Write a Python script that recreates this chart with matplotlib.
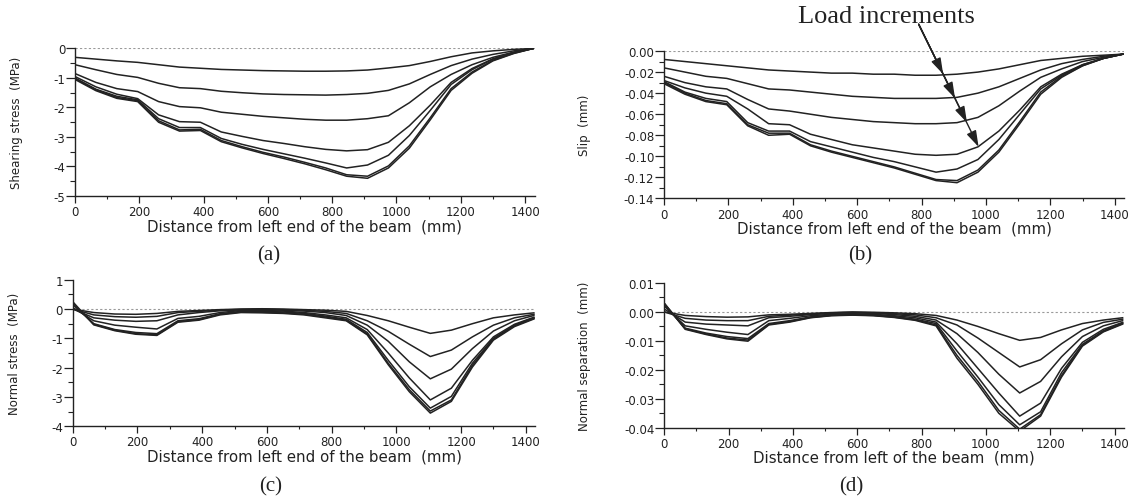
import matplotlib
matplotlib.use("Agg")
import matplotlib.pyplot as plt
from matplotlib.ticker import MultipleLocator, FormatStrFormatter

plt.rcParams["axes.unicode_minus"] = False
plt.rcParams["font.family"] = ["DejaVu Sans"]

# distance along the beam (mm), shared by all panels
x_mm = [0, 65, 130, 195, 260, 325, 390, 455, 520, 585, 650, 715, 780, 845,
        910, 975, 1040, 1105, 1170, 1235, 1300, 1365, 1425]

# (a) shearing stress (MPa), one list per load increment
shear_1 = [-0.30, -0.36, -0.42, -0.47, -0.55, -0.63, -0.67, -0.71, -0.73, -0.75, -0.76, -0.77,
           -0.77, -0.76, -0.73, -0.66, -0.58, -0.44, -0.28, -0.15, -0.08, -0.03, 0.0]
shear_2 = [-0.55, -0.72, -0.88, -0.98, -1.18, -1.33, -1.36, -1.45, -1.50, -1.54, -1.56, -1.57,
           -1.58, -1.56, -1.52, -1.42, -1.20, -0.88, -0.58, -0.36, -0.20, -0.08, 0.0]
shear_3 = [-0.85, -1.15, -1.36, -1.46, -1.80, -1.97, -2.01, -2.16, -2.23, -2.30, -2.35, -2.40,
           -2.43, -2.43, -2.38, -2.28, -1.84, -1.30, -0.88, -0.55, -0.30, -0.12, 0.0]
shear_4 = [-0.95, -1.30, -1.55, -1.70, -2.25, -2.48, -2.50, -2.83, -2.98, -3.12, -3.22, -3.33,
           -3.42, -3.47, -3.43, -3.18, -2.62, -1.92, -1.15, -0.68, -0.35, -0.14, 0.0]
shear_5 = [-1.00, -1.38, -1.62, -1.74, -2.38, -2.68, -2.68, -3.05, -3.25, -3.42, -3.57, -3.72,
           -3.88, -4.05, -3.95, -3.62, -2.95, -2.10, -1.22, -0.72, -0.36, -0.14, 0.0]
shear_6 = [-1.02, -1.40, -1.66, -1.77, -2.45, -2.76, -2.74, -3.12, -3.33, -3.52, -3.68, -3.86,
           -4.05, -4.28, -4.33, -3.98, -3.30, -2.35, -1.36, -0.80, -0.40, -0.16, 0.0]
shear_7 = [-1.05, -1.43, -1.69, -1.80, -2.50, -2.80, -2.78, -3.16, -3.37, -3.56, -3.73, -3.91,
           -4.11, -4.33, -4.40, -4.05, -3.38, -2.42, -1.42, -0.84, -0.42, -0.17, 0.0]

# (b) slip (mm)
slip_1 = [-0.008, -0.010, -0.012, -0.014, -0.016, -0.018, -0.019, -0.020, -0.021, -0.021, -0.022, -0.022,
          -0.023, -0.023, -0.022, -0.020, -0.017, -0.013, -0.009, -0.007, -0.005, -0.004, -0.003]
slip_2 = [-0.016, -0.020, -0.024, -0.026, -0.031, -0.036, -0.037, -0.039, -0.041, -0.043, -0.044, -0.045,
          -0.045, -0.045, -0.044, -0.040, -0.034, -0.026, -0.018, -0.012, -0.008, -0.005, -0.003]
slip_3 = [-0.024, -0.030, -0.034, -0.036, -0.046, -0.055, -0.057, -0.060, -0.063, -0.065, -0.067, -0.068,
          -0.069, -0.069, -0.068, -0.063, -0.052, -0.038, -0.025, -0.017, -0.010, -0.006, -0.003]
slip_4 = [-0.028, -0.035, -0.040, -0.043, -0.055, -0.069, -0.070, -0.079, -0.084, -0.089, -0.092, -0.095,
          -0.098, -0.099, -0.098, -0.091, -0.076, -0.056, -0.034, -0.022, -0.013, -0.007, -0.003]
slip_5 = [-0.029, -0.039, -0.045, -0.048, -0.068, -0.076, -0.076, -0.086, -0.091, -0.096, -0.101, -0.105,
          -0.110, -0.115, -0.112, -0.103, -0.084, -0.060, -0.036, -0.023, -0.013, -0.007, -0.003]
slip_6 = [-0.030, -0.040, -0.047, -0.050, -0.070, -0.078, -0.078, -0.089, -0.095, -0.100, -0.105, -0.110,
          -0.116, -0.122, -0.123, -0.113, -0.094, -0.067, -0.039, -0.024, -0.014, -0.007, -0.003]
slip_7 = [-0.031, -0.041, -0.048, -0.051, -0.071, -0.080, -0.079, -0.090, -0.096, -0.101, -0.106, -0.111,
          -0.117, -0.123, -0.125, -0.115, -0.096, -0.069, -0.041, -0.025, -0.014, -0.007, -0.003]

# (c) normal stress (MPa)
normal_1 = [0.00, -0.12, -0.17, -0.18, -0.15, -0.08, -0.05, -0.02, 0.00, 0.01, 0.00, -0.02,
            -0.04, -0.08, -0.22, -0.40, -0.62, -0.83, -0.72, -0.50, -0.30, -0.20, -0.13]
normal_2 = [0.00, -0.20, -0.26, -0.28, -0.25, -0.12, -0.08, -0.04, -0.01, 0.00, -0.02, -0.04,
            -0.08, -0.15, -0.40, -0.76, -1.20, -1.62, -1.40, -0.95, -0.55, -0.30, -0.18]
normal_3 = [0.00, -0.30, -0.38, -0.42, -0.40, -0.20, -0.12, -0.06, -0.03, -0.02, -0.04, -0.07,
            -0.12, -0.22, -0.55, -1.10, -1.80, -2.38, -2.05, -1.35, -0.75, -0.40, -0.22]
normal_4 = [0.05, -0.40, -0.55, -0.62, -0.68, -0.32, -0.25, -0.12, -0.05, -0.05, -0.07, -0.12,
            -0.20, -0.30, -0.70, -1.50, -2.35, -3.10, -2.70, -1.75, -0.95, -0.52, -0.28]
normal_5 = [0.15, -0.50, -0.70, -0.80, -0.84, -0.40, -0.33, -0.16, -0.08, -0.08, -0.10, -0.15,
            -0.24, -0.35, -0.80, -1.75, -2.65, -3.38, -2.98, -1.85, -1.00, -0.55, -0.30]
normal_6 = [0.20, -0.52, -0.72, -0.84, -0.88, -0.43, -0.36, -0.18, -0.10, -0.11, -0.13, -0.18,
            -0.27, -0.38, -0.85, -1.85, -2.75, -3.48, -3.10, -1.92, -1.03, -0.57, -0.32]
normal_7 = [0.25, -0.54, -0.74, -0.86, -0.90, -0.45, -0.38, -0.20, -0.12, -0.13, -0.15, -0.20,
            -0.30, -0.40, -0.88, -1.90, -2.82, -3.55, -3.15, -1.98, -1.06, -0.60, -0.34]

# (d) normal separation (mm)
sep_1 = [0.000, -0.0012, -0.0016, -0.0018, -0.0017, -0.0010, -0.0008, -0.0005, -0.0002, 0.0000, -0.0001, -0.0003,
         -0.0006, -0.0012, -0.0028, -0.0050, -0.0075, -0.0098, -0.0088, -0.0062, -0.0040, -0.0028, -0.0020]
sep_2 = [0.000, -0.0022, -0.0028, -0.0030, -0.0030, -0.0015, -0.0011, -0.0007, -0.0003, -0.0001, -0.0003, -0.0006,
         -0.0010, -0.0020, -0.0045, -0.0090, -0.0140, -0.0190, -0.0165, -0.0110, -0.0062, -0.0036, -0.0025]
sep_3 = [0.001, -0.0035, -0.0042, -0.0045, -0.0048, -0.0020, -0.0015, -0.0009, -0.0005, -0.0003, -0.0005, -0.0009,
         -0.0015, -0.0028, -0.0075, -0.0140, -0.0215, -0.0280, -0.0240, -0.0155, -0.0085, -0.0048, -0.0030]
sep_4 = [0.002, -0.0048, -0.0060, -0.0070, -0.0078, -0.0030, -0.0022, -0.0013, -0.0008, -0.0006, -0.0008, -0.0013,
         -0.0020, -0.0035, -0.0110, -0.0195, -0.0280, -0.0360, -0.0315, -0.0195, -0.0105, -0.0060, -0.0036]
sep_5 = [0.0025, -0.0056, -0.0073, -0.0085, -0.0092, -0.0040, -0.0030, -0.0017, -0.0011, -0.0009, -0.0011, -0.0016,
         -0.0025, -0.0040, -0.0135, -0.0225, -0.0320, -0.0390, -0.0345, -0.0210, -0.0112, -0.0065, -0.0038]
sep_6 = [0.003, -0.0058, -0.0076, -0.0090, -0.0097, -0.0043, -0.0033, -0.0019, -0.0012, -0.0010, -0.0012, -0.0018,
         -0.0027, -0.0045, -0.0150, -0.0240, -0.0340, -0.0405, -0.0355, -0.0220, -0.0115, -0.0067, -0.0040]
sep_7 = [0.003, -0.0060, -0.0078, -0.0093, -0.0101, -0.0045, -0.0035, -0.0020, -0.0013, -0.0011, -0.0013, -0.0019,
         -0.0029, -0.0048, -0.0160, -0.0250, -0.0350, -0.0412, -0.0360, -0.0225, -0.0118, -0.0069, -0.0042]

# arrow through the slip curves: start point and the head positions (mm, mm)
arrow_start = (791, 0.0254)
arrow_heads = [(867, -0.022), (904, -0.045), (941, -0.068), (977, -0.091)]

INK = "#222222"


def style_axes(ax, ylim, ymajor, yminor, yfmt, ylabel, xlabel, ylab_x):
    ax.set_xlim(0, 1430)
    ax.set_ylim(*ylim)
    for side in ("top", "right"):
        ax.spines[side].set_visible(False)
    for side in ("left", "bottom"):
        ax.spines[side].set_color(INK)
        ax.spines[side].set_linewidth(1.0)
    ax.xaxis.set_major_locator(MultipleLocator(200))
    ax.xaxis.set_minor_locator(MultipleLocator(100))
    ax.yaxis.set_major_locator(MultipleLocator(ymajor))
    ax.yaxis.set_minor_locator(MultipleLocator(yminor))
    ax.yaxis.set_major_formatter(FormatStrFormatter(yfmt))
    ax.tick_params(which="both", color=INK, labelsize=8.5, labelcolor=INK)
    ax.tick_params(axis="x", which="major", direction="out", length=5, width=0.9, pad=1.5)
    ax.tick_params(axis="x", which="minor", direction="out", length=2.5, width=0.8)
    ax.tick_params(axis="y", which="major", direction="out", length=6.5, width=0.9, pad=0.5)
    ax.tick_params(axis="y", which="minor", direction="out", length=3.5, width=0.8)
    ax.set_ylabel(ylabel, fontsize=8.5, color=INK)
    ax.yaxis.set_label_coords(ylab_x, 0.5)
    ax.set_xlabel(xlabel, fontsize=10.8, color=INK, labelpad=0)
    ax.axhline(0, color="#9a9a9a", lw=0.8, ls=(0, (2, 2)), zorder=1)


def draw_curves(ax, curves):
    for ys in curves:
        ax.plot(x_mm, ys, color=INK, lw=1.1, zorder=2)


fig = plt.figure(figsize=(11.35, 5.02), dpi=100)

ax_a = fig.add_axes([0.0661, 0.6076, 0.4050, 0.2938])
ax_b = fig.add_axes([0.5850, 0.6026, 0.4057, 0.2938])
ax_c = fig.add_axes([0.0641, 0.1488, 0.4077, 0.2920])
ax_d = fig.add_axes([0.5853, 0.1460, 0.4052, 0.2882])

draw_curves(ax_a, [shear_1, shear_2, shear_3, shear_4, shear_5, shear_6, shear_7])
draw_curves(ax_b, [slip_1, slip_2, slip_3, slip_4, slip_5, slip_6, slip_7])
draw_curves(ax_c, [normal_1, normal_2, normal_3, normal_4, normal_5, normal_6, normal_7])
draw_curves(ax_d, [sep_1, sep_2, sep_3, sep_4, sep_5, sep_6, sep_7])

style_axes(ax_a, (-5, 0), 1, 0.5, "%d", "Shearing stress  (MPa)",
           "Distance from left end of the beam  (mm)", -0.113)
style_axes(ax_b, (-0.14, 0.0), 0.02, 0.01, "%.2f", "Slip  (mm)",
           "Distance from left end of the beam  (mm)", -0.158)
style_axes(ax_c, (-4, 1), 1, 0.5, "%d", "Normal stress  (MPa)",
           "Distance from left end of the beam  (mm)", -0.112)
style_axes(ax_d, (-0.04, 0.01), 0.01, 0.005, "%.2f", "Normal separation  (mm)",
           "Distance from left of the beam  (mm)", -0.159)

# "Load increments" arrow with a head on each crossed curve
for head in arrow_heads:
    ax_b.annotate("", xy=head, xytext=arrow_start, annotation_clip=False,
                  arrowprops=dict(arrowstyle="-|>,head_length=0.7,head_width=0.22",
                                  color=INK, lw=1.0, mutation_scale=14,
                                  shrinkA=0, shrinkB=0))
fig.text(798 / 1135, 1 - 17 / 502, "Load increments", family="Liberation Serif",
         fontsize=19, color=INK, ha="left", va="center")

# panel letters
for label, px, py in [("(a)", 269, 256), ("(b)", 860, 256), ("(c)", 271, 487), ("(d)", 851, 487)]:
    fig.text(px / 1135, 1 - py / 502, label, family="Liberation Serif",
             fontsize=15, color=INK, ha="center", va="center")

fig.savefig("out.png", dpi=100, facecolor="white")
